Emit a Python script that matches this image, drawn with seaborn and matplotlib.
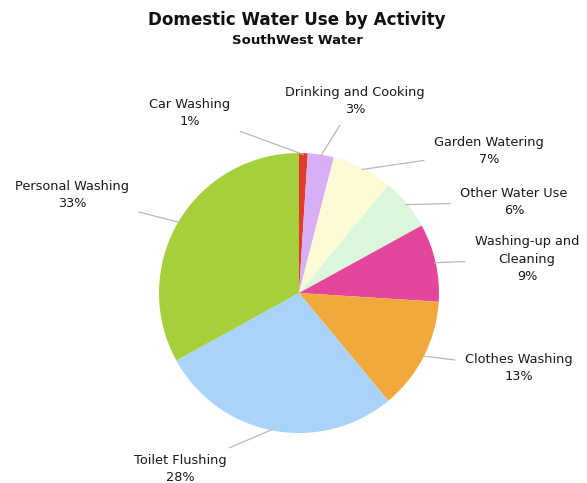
import numpy as np
import matplotlib
matplotlib.use("Agg")
import matplotlib.pyplot as plt
import seaborn as sns

# data, clockwise from 12 o'clock
activities = ["Car Washing", "Drinking and Cooking", "Garden Watering",
              "Other Water Use", "Washing-up and\nCleaning", "Clothes Washing",
              "Toilet Flushing", "Personal Washing"]
shares = [1, 3, 7, 6, 9, 13, 28, 33]
colors = ["#e23b2b", "#d8aef5", "#fdfbd5", "#dcf6dc", "#e4469b",
          "#f1a93b", "#a9d3f8", "#a6d03b"]

# label block centres in pixel coords (x, y from top)
label_pos = [(190, 113), (355, 101), (489, 151), (514, 202),
             (527, 259), (519, 368), (180, 469), (72, 195)]

W, H = 587, 483
sns.set_theme(style="white")
plt.rcParams["font.family"] = ["DejaVu Sans"]

fig = plt.figure(figsize=(W / 100, H / 100), dpi=100)
ax = fig.add_axes([0, 0, 1, 1])

cx, cy, r = 299, H - 293, 140
wedges, _ = ax.pie(shares, colors=colors, startangle=90, counterclock=False,
                   center=(cx, cy), radius=r, frame=True,
                   wedgeprops=dict(linewidth=0))
ax.set_xlim(0, W)
ax.set_ylim(0, H)
ax.set_aspect("equal")
ax.axis("off")

for w, name, val, (lx, ly) in zip(wedges, activities, shares, label_pos):
    mid = np.deg2rad((w.theta1 + w.theta2) / 2)
    px = cx + 0.99 * r * np.cos(mid)
    py = cy + 0.99 * r * np.sin(mid)
    ax.annotate(f"{name}\n{val}%", xy=(px, py), xytext=(lx, H - ly),
                ha="center", va="center", fontsize=9.3, color="#1a1a1a",
                linespacing=1.42,
                arrowprops=dict(arrowstyle="-", color="#b8b8b8", lw=0.9,
                                shrinkA=5, shrinkB=0))

fig.text(297 / W, 1 - 20 / H, "Domestic Water Use by Activity", ha="center",
         va="center", fontsize=12.1, fontweight="bold", color="#111111")
fig.text(297 / W, 1 - 40 / H, "SouthWest Water", ha="center", va="center",
         fontsize=9.5, fontweight="bold", color="#111111")

fig.savefig("out.png", dpi=100, facecolor="white")
